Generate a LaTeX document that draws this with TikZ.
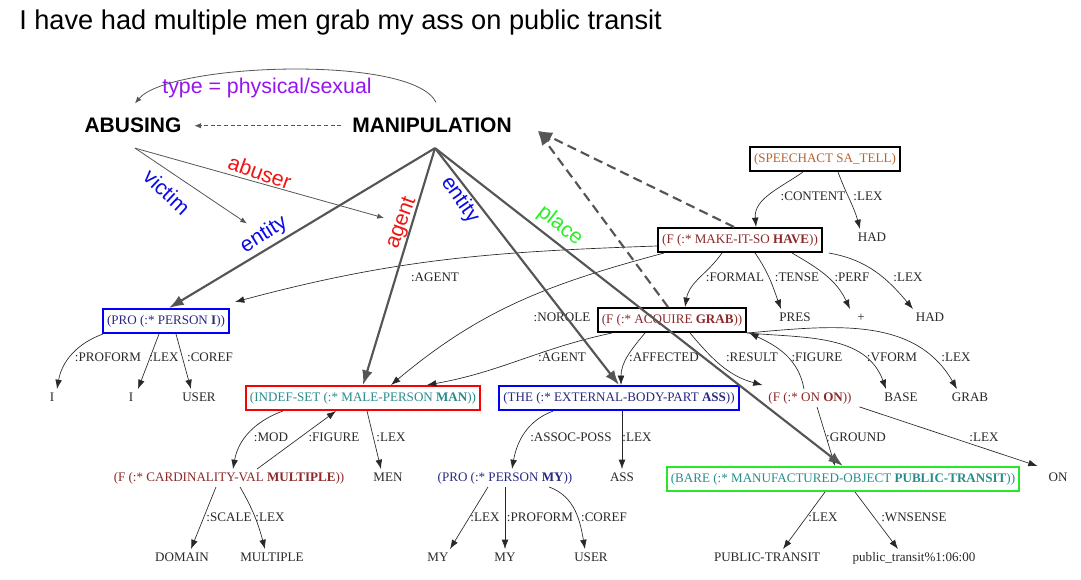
\documentclass[tikz,border=0pt]{standalone}
\usepackage{fontspec}
\setmainfont{Liberation Serif}
\newfontfamily\sansfam{Liberation Sans}
\usetikzlibrary{arrows.meta,calc}

\definecolor{speechc}{RGB}{180,100,50}
\definecolor{headred}{RGB}{140,40,40}
\definecolor{fteal}{RGB}{40,140,140}
\definecolor{navyc}{RGB}{40,40,130}
\definecolor{leafc}{RGB}{40,40,40}
\definecolor{rolegray}{RGB}{85,85,85}
\definecolor{boxgreen}{RGB}{40,230,40}
\definecolor{boxblue}{RGB}{0,0,250}
\definecolor{boxred}{RGB}{250,0,0}
\definecolor{rblue}{RGB}{10,10,230}
\definecolor{rred}{RGB}{240,20,20}
\definecolor{rgreen}{RGB}{40,240,40}
\definecolor{rpurple}{RGB}{150,20,240}

\tikzset{
  tree/.style={font=\fontsize{9.8}{11}\selectfont, inner sep=2pt, text height=7pt, text depth=2pt},
  box/.style={tree, draw, line width=1.5pt, inner xsep=3pt, minimum height=18pt},
  leaf/.style={tree, text=leafc},
  lab/.style={tree, text=leafc, inner sep=0pt},
  edge/.style={draw=leafc, line width=0.5pt, -{Latex[length=7pt,width=5pt]}},
  role/.style={draw=rolegray, line width=1.6pt, -{Latex[length=11pt,width=8pt]}},
  hint/.style={draw=rolegray, line width=0.6pt, -{Latex[length=5pt,width=4pt]}},
  rolelab/.style={font=\sansfam\fontsize{16}{18}\selectfont, inner sep=1pt},
  frame/.style={font=\sansfam\bfseries\fontsize{15.75}{18}\selectfont, inner sep=2pt},
}

\begin{document}
\begin{tikzpicture}[x=0.75pt,y=0.75pt]
	\useasboundingbox (0,0) rectangle (1081,-580);

	% sentence and frames
	\node[font=\sansfam\fontsize{20.4}{24}\selectfont, inner sep=0pt, anchor=base west] (title) at (19,-30) {I have had multiple men grab my ass on public transit};
	\node[frame, anchor=base] (abusing) at (133,-133) {ABUSING};
	\node[frame, anchor=base] (manip) at (432,-133) {MANIPULATION};

	% parse tree
	\node[box, text=speechc] (speech) at (825,-159) {(SPEECHACT SA\_TELL)};
	\node[box, text=headred] (mk) at (740,-240) {(F (:* MAKE-IT-SO \textbf{HAVE}))};
	\node[leaf] (had1) at (872,-238) {HAD};

	\node[box, draw=boxblue, text=navyc] (proi) at (166,-321) {(PRO (:* PERSON \textbf{I}))};
	\node[box, text=headred] (acq) at (672,-320) {(F (:* ACQUIRE \textbf{GRAB}))};
	\node[leaf] (pres) at (795,-318) {PRES};
	\node[leaf] (plus) at (861,-318) {+};
	\node[leaf] (had2) at (930,-318) {HAD};

	\node[leaf] (i1) at (52,-398) {I};
	\node[leaf] (i2) at (131,-398) {I};
	\node[leaf] (user1) at (199,-398) {USER};
	\node[box, draw=boxred, text=fteal] (indef) at (363,-398) {(INDEF-SET (:* MALE-PERSON \textbf{MAN}))};
	\node[box, draw=boxblue, text=navyc] (the) at (619,-398) {(THE (:* EXTERNAL-BODY-PART \textbf{ASS}))};
	\node[leaf, text=headred] (on) at (810,-398) {(F (:* ON \textbf{ON}))};
	\node[leaf] (base) at (901,-398) {BASE};
	\node[leaf] (grab) at (970,-398) {GRAB};

	\node[leaf, text=headred] (card) at (229,-478) {(F (:* CARDINALITY-VAL \textbf{MULTIPLE}))};
	\node[leaf] (men) at (388,-478) {MEN};
	\node[leaf, text=navyc] (promy) at (505,-478) {(PRO (:* PERSON \textbf{MY}))};
	\node[leaf] (ass) at (622,-478) {ASS};
	\node[box, draw=boxgreen, text=fteal] (bare) at (843,-479) {(BARE (:* MANUFACTURED-OBJECT \textbf{PUBLIC-TRANSIT}))};
	\node[leaf] (on2) at (1058,-478) {ON};

	\node[leaf] (domain) at (182,-558) {DOMAIN};
	\node[leaf] (multiple) at (272,-558) {MULTIPLE};
	\node[leaf] (my1) at (438,-558) {MY};
	\node[leaf] (my2) at (505,-558) {MY};
	\node[leaf] (user2) at (591,-558) {USER};
	\node[leaf] (ptransit) at (767,-558) {PUBLIC-TRANSIT};
	\node[leaf] (wnsense) at (914,-558) {public\_transit\%1:06:00};

	% tree edges
	\draw[edge] ($(speech.south)+(-22,0)$) to[out=215,in=95] ($(mk.north)+(16,0)$);
	\draw[edge] ($(speech.south)+(13,0)$) to[out=-70,in=105] ($(had1.north)+(-12,0)$);

	\draw[edge] ($(mk.west)+(0,-6)$) to[out=182,in=15] ($(proi.north east)+(5,6)$);
	\draw[edge] ($(mk.south west)+(7,0)$) to[out=195,in=40] ($(indef.north)+(28,0)$);
	\draw[edge] ($(mk.south)+(-18,0)$) to[out=235,in=80] ($(acq.north)+(13,0)$);
	\draw[edge] ($(mk.south)+(15,0)$) to[out=-55,in=110] ($(pres.north)+(-14,0)$);
	\draw[edge] ($(mk.south)+(52,0)$) to[out=-30,in=115] ($(plus.north)+(-11,0)$);
	\draw[edge] ($(mk.south east)+(6,0)$) to[out=-10,in=130] ($(had2.north)+(-17,0)$);

	\draw[edge] ($(proi.south west)+(1,0)$) to[out=200,in=80] ($(i1.north)+(5,0)$);
	\draw[edge] ($(proi.south)+(-7,0)$) -- ($(i2.north)+(7,0)$);
	\draw[edge] ($(proi.south)+(10,0)$) -- ($(user1.north)+(-8,0)$);

	\draw[edge] ($(acq.south)+(-60,0)$) to[out=192,in=10] ($(indef.north)+(64,0)$);
	\draw[edge] ($(acq.south)+(-27,0)$) to[out=230,in=90] ($(the.north)+(2,0)$);
	\draw[edge] ($(acq.south)+(18,0)$) to[out=-50,in=165] ($(on.north west)+(-3,4)$);
	\draw[edge] ($(on.north)+(-6,0)$) to[out=100,in=-25] ($(acq.south east)+(2,0)$);
	\draw[edge] (acq.south east) to[out=-5,in=110] ($(base.north)+(-15,0)$);
	\draw[edge] (acq.south east) to[out=5,in=120] ($(grab.north)+(-13,0)$);

	\draw[edge] ($(indef.south west)+(38,0)$) to[out=200,in=80] ($(card.north)+(4,0)$);
	\draw[edge] ($(card.north)+(28,0)$) -- ($(indef.south)+(-27,0)$);
	\draw[edge] ($(indef.south)+(4,0)$) -- ($(men.north)+(-7,0)$);

	\draw[edge] ($(the.south west)+(55,0)$) to[out=200,in=80] ($(promy.north)+(7,0)$);
	\draw[edge] ($(the.south)+(3,0)$) -- (ass.north);

	\draw[edge] ($(on.south)+(7,0)$) -- ($(bare.north)+(-8,0)$);
	\draw[edge] ($(on.south east)+(5,0)$) -- ($(on2.north west)+(-8,3)$);

	\draw[edge] ($(card.south)+(-13,0)$) -- ($(domain.north)+(9,0)$);
	\draw[edge] ($(card.south)+(11,0)$) to[out=-60,in=105] ($(multiple.north)+(-7,0)$);

	\draw[edge] ($(promy.south)+(-17,0)$) -- ($(my1.north)+(12,0)$);
	\draw[edge] (promy.south) -- (my2.north);
	\draw[edge] ($(promy.south)+(44,0)$) to[out=-20,in=100] ($(user2.north)+(-6,0)$);

	\draw[edge] ($(bare.south)+(-18,0)$) -- ($(ptransit.north)+(16,0)$);
	\draw[edge] ($(bare.south)+(12,0)$) -- ($(wnsense.north)+(-16,0)$);

	% edge labels
	\node[lab] (lcontent) at (813,-197) {:CONTENT};
	\node[lab] (llexsp) at (868,-197) {:LEX};
	\node[lab] (lagentmk) at (435,-278) {:AGENT};
	\node[lab] (lnorole) at (562,-318) {:NOROLE};
	\node[lab] (lformal) at (735,-278) {:FORMAL};
	\node[lab] (ltense) at (797,-278) {:TENSE};
	\node[lab] (lperf) at (852,-278) {:PERF};
	\node[lab] (llexmk) at (908,-278) {:LEX};
	\node[lab] (lproform) at (108,-358) {:PROFORM};
	\node[lab] (llexi) at (164,-358) {:LEX};
	\node[lab] (lcoref) at (210,-358) {:COREF};
	\node[lab] (lagentacq) at (562,-358) {:AGENT};
	\node[lab] (laffected) at (664,-358) {:AFFECTED};
	\node[lab] (lresult) at (752,-358) {:RESULT};
	\node[lab] (lfigon) at (817,-358) {:FIGURE};
	\node[lab] (lvform) at (892,-358) {:VFORM};
	\node[lab] (llexacq) at (956,-358) {:LEX};
	\node[lab] (lmod) at (271,-438) {:MOD};
	\node[lab] (lfigcard) at (334,-438) {:FIGURE};
	\node[lab] (llexmen) at (391,-438) {:LEX};
	\node[lab] (lassoc) at (571,-438) {:ASSOC-POSS};
	\node[lab] (llexass) at (637,-438) {:LEX};
	\node[lab] (lground) at (856,-438) {:GROUND};
	\node[lab] (llexon) at (984,-438) {:LEX};
	\node[lab] (lscale) at (229,-518) {:SCALE};
	\node[lab] (llexcard) at (270,-518) {:LEX};
	\node[lab] (llexmy) at (485,-518) {:LEX};
	\node[lab] (lproformmy) at (540,-518) {:PROFORM};
	\node[lab] (lcorefmy) at (604,-518) {:COREF};
	\node[lab] (llexbare) at (823,-518) {:LEX};
	\node[lab] (lwnsense) at (914,-518) {:WNSENSE};

	% frame roles
	\coordinate (mfoot) at ($(manip.south)+(3,-12)$);
	\coordinate (abfoot) at ($(abusing.south)+(2,-12)$);
	\coordinate (mtip) at ($(manip.east)+(23,-5)$);

	\draw[role] (mfoot) -- ($(proi.north)+(3,0)$);
	\draw[role] (mfoot) -- (indef.north);
	\draw[role] (mfoot) -- (the.north);
	\draw[role] (mfoot) -- (bare.north);
	\draw[role, dash pattern=on 7pt off 4pt] ($(mk.north)+(-6,0)$) -- (mtip);
	\draw[role, dash pattern=on 7pt off 4pt] ($(acq.north)+(-4,0)$) -- (mtip);

	\node[rolelab, text=rpurple] (typel) at (267,-88) {type = physical/sexual};
	\node[rolelab, text=rblue, rotate=-43] (victim) at (167,-192) {victim};
	\node[rolelab, text=rred, rotate=-20] (abuser) at (260,-172) {abuser};
	\node[rolelab, text=rblue, rotate=32] (entityi) at (264,-235) {entity};
	\node[rolelab, text=rred, rotate=70] (agentl) at (402,-223) {agent};
	\node[rolelab, text=rblue, rotate=-55] (entitya) at (460,-200) {entity};
	\node[rolelab, text=rgreen, rotate=-38] (placel) at (560,-226) {place};

	\draw[hint] ($(manip.north)+(4,13)$) to[out=115,in=50,looseness=0.45] ($(abusing.north)+(2,12)$);
	\draw[hint, dash pattern=on 3pt off 2pt, shorten <=6pt, shorten >=7.5pt] (manip.west) -- (abusing.east);
	\draw[hint, shorten >=6pt] (abfoot) -- (entityi);
	\draw[hint, shorten >=6pt] (abfoot) -- (agentl);
\end{tikzpicture}
\end{document}
